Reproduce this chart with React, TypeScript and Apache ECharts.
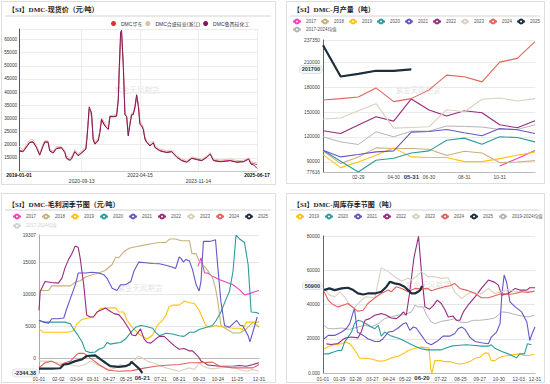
import React, { useEffect, useRef } from 'react';
import * as echarts from 'echarts';

const SANS = '"Liberation Sans", Arial, "Noto Sans CJK SC", sans-serif';
const SERIF = '"Liberation Serif", "Times New Roman", "Noto Sans CJK SC", serif';

// ---------------- Top-left: spot price ----------------
const PRICE_DATES = ['2019-01-01','2019-02-10','2019-04-17','2019-05-20','2019-06-22','2019-07-25','2019-08-28','2019-09-13','2019-10-16','2019-11-02','2019-12-05','2020-01-07','2020-02-26','2020-03-30','2020-04-15','2020-05-19','2020-06-04','2020-07-07','2020-08-09','2020-09-12','2020-10-25','2020-11-07','2020-11-27','2020-12-20','2021-01-05','2021-01-22','2021-02-24','2021-03-13','2021-03-29','2021-04-22','2021-05-18','2021-06-04','2021-06-20','2021-07-23','2021-08-25','2021-09-11','2021-09-21','2021-10-04','2021-10-14','2021-10-31','2021-11-16','2021-12-03','2021-12-19','2022-01-05','2022-01-21','2022-02-07','2022-02-24','2022-03-12','2022-03-29','2022-04-14','2022-05-01','2022-05-17','2022-06-03','2022-06-20','2022-07-23','2022-08-25','2022-09-10','2022-10-30','2023-01-04','2023-02-23','2023-04-14','2023-06-02','2023-07-22','2023-09-10','2023-10-30','2023-12-18','2024-02-06','2024-03-10','2024-04-12','2024-06-17','2024-09-25','2024-11-30','2025-02-04','2025-03-26','2025-04-18','2025-05-15','2025-06-17'];
const PRICE_HUADONG = [18000,17500,21000,21200,19200,16300,19800,21200,21000,17800,17000,18700,19000,17300,15000,14300,14800,17500,16000,17000,18500,23800,33500,31500,22500,20500,21800,25000,29800,28000,26500,26000,30500,30800,31000,37000,48000,60000,62000,50000,31800,30500,23800,28000,31500,31800,34000,38500,35000,28000,27300,26000,22300,21000,19800,20600,19000,17800,17200,17500,15400,14100,13500,15000,14500,14100,15400,16700,14100,13700,14000,13500,13700,14700,13000,12800,12400];
const PRICE_HESHENG = [19500,18000,21800,22000,19800,16800,20300,21500,21500,18300,17500,19200,19300,17800,15800,14900,15300,18200,16600,17600,19200,24500,33000,30500,23000,21300,22300,25500,30300,28800,27300,26800,31000,31200,31500,38000,50500,61500,62500,51000,32300,31000,24300,28500,32000,32300,35000,38800,35500,28800,28000,26800,23000,21800,20500,21300,19600,18300,17800,18000,15900,14600,14000,15300,14900,14500,15700,17000,14500,14200,14500,14000,14100,15000,13500,13300,13000];
const PRICE_LUXI = [17600,17300,20800,21000,19000,16000,19500,21000,21000,17600,16800,18500,18800,17000,14800,14000,14500,17300,15800,16800,18300,23300,34400,32100,22000,20200,21400,24600,29600,27700,26400,25800,30800,30600,30800,37100,49700,62900,63500,49700,31400,30800,23300,27700,31400,31400,34600,39000,34600,27700,27100,25800,22000,20800,19500,20800,18900,17600,17000,17300,15200,13900,13300,14800,14300,13900,15200,16400,13900,13500,13900,13300,13500,14500,12600,12300,11000];
const PRICE_LABEL_DATES = ['2019-01-01','2020-09-13','2022-04-15','2023-11-14','2025-06-17'];
const PRICE_END_LABELS = [13000, 12400];

// ---------------- Top-right: monthly output ----------------
const MONTH_CATS = ['01-01','01-31','02-29','03-31','04-30','05-31','06-30','07-31','08-31','09-30','10-31','11-30','12-31'];
const MONTH_LABEL_IDX = [2, 4, 6, 8, 10];
const OUT_2017 = [null,null,null,null,null,null,null,null,null,null,85000,94000,103500];
const OUT_2018 = [103200,87800,95900,106800,106000,106000,105200,97500,102800,100700,89000,89800,91400];
const OUT_2019 = [98700,82900,89800,97900,106800,95900,95100,95100,90200,90200,93800,97900,101900];
const OUT_2020 = [104000,90600,77616,91800,94200,100700,103200,116000,118600,111300,120200,119400,114100];
const OUT_2021 = [104000,95900,98700,102000,103200,125900,126700,129100,125100,121400,130300,128700,124200];
const OUT_2022 = [127500,124200,134400,144500,139200,166000,152600,145300,151800,149400,134800,131100,139600];
const OUT_2023 = [141700,142900,151800,160300,130700,131500,132300,153000,150600,165600,167200,163600,166400];
const OUT_2024 = [164800,166400,168400,179400,162800,166400,177000,194800,192800,186700,210600,215100,235300];
const OUT_2025 = [230900,193200,196400,200100,200100,201700];
const OUT_MEAN = [120200,114100,110900,126300,120200,127100,127100,133200,132800,132000,129100,129100,134800];

// ---------------- Bottom-left: gross profit (day-of-year, value) ----------------
const PROFIT_LABELS = ['01-01','02-02','03-04','03-31','04-27','05-25','07-21','08-21','09-23','10-24','11-25','12-31'];
const PROFIT_2017 = [[263,14400],[268,15700],[274,13350],[279,13350],[287,12820],[299,12290],[310,11900],[321,11500],[332,10700],[340,9900],[349,10150],[357,10400],[364,10600]];
const PROFIT_2018 = [[0,10600],[16,10600],[21,11330],[43,11330],[52,11330],[60,11900],[68,12130],[77,12710],[88,13080],[99,13350],[110,13780],[121,14680],[127,15850],[132,15740],[140,16650],[149,17230],[160,17450],[176,17760],[188,17980],[199,18140],[210,18140],[216,18670],[226,18670],[235,18400],[249,18400],[253,16380],[260,16380],[265,15210],[276,14150],[287,12660],[292,10960],[296,8830],[301,5100],[310,4570],[321,3940],[332,3940],[343,4570],[354,5640],[364,4840]];
const PROFIT_2019 = [[0,4570],[7,4040],[27,4040],[49,4040],[57,4310],[63,5370],[71,6060],[82,6280],[90,6440],[96,7130],[102,7770],[115,7870],[127,7870],[132,7230],[140,7230],[146,5900],[154,4840],[165,3780],[179,2980],[188,3620],[196,5110],[204,5900],[210,6700],[215,8030],[221,8300],[232,8300],[240,8940],[249,8670],[257,8560],[265,7500],[271,6170],[276,5110],[282,4840],[293,5110],[299,4950],[310,4840],[321,4680],[332,4680],[337,4470],[343,5640],[354,5640],[364,5640]];
const PROFIT_2020 = [[0,5900],[10,5640],[21,5640],[43,5640],[52,5370],[57,4570],[65,3510],[71,2550],[77,1120],[85,850],[93,960],[99,1380],[107,1650],[113,2450],[118,2180],[127,2340],[135,2450],[143,2980],[152,4040],[160,4840],[168,5110],[176,5000],[188,4680],[193,4040],[199,3510],[210,3880],[221,3780],[232,3510],[240,3400],[249,4040],[257,4040],[265,4470],[276,4790],[287,5110],[293,5900],[301,7230],[310,9360],[315,10430],[321,13620],[326,19307],[332,18670],[340,18140],[346,14680],[351,7230],[360,7130],[364,6970]];
const PROFIT_2021 = [[0,5900],[7,5640],[16,5480],[21,6170],[32,6170],[41,6280],[46,7770],[52,9360],[60,11490],[65,13350],[77,13350],[88,13460],[99,13350],[107,13080],[113,12450],[121,10960],[129,10590],[135,11490],[143,11490],[152,12020],[157,13620],[165,15050],[176,14950],[188,14840],[199,14790],[210,14570],[221,14260],[226,14040],[232,15850],[235,15640],[239,15050],[243,15480],[249,15210],[254,13880],[260,11490],[265,10530],[268,12020],[272,18300],[276,18300],[282,18300],[287,18400],[292,18560],[296,14150],[301,8830],[307,5110],[315,4840],[321,5370],[327,5900],[333,5110],[337,5110],[346,3510],[349,2550],[357,5110],[361,6440]];
const PROFIT_2022 = [[0,7500],[2,10430],[10,12020],[21,11860],[32,11760],[38,12550],[43,14150],[49,15480],[54,16280],[60,17600],[65,17340],[68,15740],[74,11490],[79,6700],[85,6440],[90,6440],[96,7230],[102,7500],[110,7870],[115,7500],[124,6970],[132,6810],[140,5900],[149,4570],[154,3620],[160,3510],[168,4570],[174,2980],[179,2450],[185,2340],[193,2980],[199,3400],[207,3400],[215,2710],[224,1910],[232,1380],[240,1490],[249,1120],[254,1120],[260,590],[265,50],[268,-480],[274,-740],[279,-1100],[287,-1170],[299,-1280],[310,-1280],[321,-1280],[332,-1170],[343,-1280],[354,-1000],[364,-740]];
const PROFIT_2023 = [[0,-480],[16,-480],[32,-740],[49,-1010],[65,-1280],[77,-1010],[85,-480],[93,-850],[102,-1280],[110,-1700],[118,-1810],[127,-1540],[135,-1010],[143,-1280],[152,-640],[160,-210],[165,300],[171,0],[179,-480],[188,-740],[199,-1120],[210,-1540],[221,-1810],[232,-2070],[240,-1810],[249,-1540],[257,-1810],[265,-740],[271,-1280],[279,-1540],[287,-1700],[299,-1540],[310,-1450],[321,-1380],[332,-1810],[343,-2070],[354,-1810],[364,-2070]];
const PROFIT_2024 = [[0,-1540],[10,-740],[21,-480],[35,-1170],[43,-740],[52,-480],[60,320],[65,740],[74,740],[79,430],[88,-210],[99,-1010],[115,-1910],[132,-2070],[154,-1970],[176,-1540],[193,-1280],[210,-1120],[232,-1010],[249,-740],[265,-740],[287,-640],[299,-1280],[321,-1540],[343,-1540],[354,-1540],[364,-1010]];
const PROFIT_2025 = [[0,-1650],[21,-1650],[35,-1600],[41,-1010],[49,-900],[60,-480],[71,-210],[79,320],[93,430],[102,-210],[110,-740],[118,-1280],[132,-1380],[143,-1280],[150,-1010],[153,-590],[158,-1010],[166,-1700],[171,-2344.38]];
const PROFIT_MEAN: number[][] = [];
const PROFIT_NOW = { day: 171, text: '06-21', value: -2344.38 };

// ---------------- Bottom-right: weekly inventory ----------------
const STOCK_LABELS = ['01-01','01-29','02-26','03-27','04-24','05-22','07-22','08-25','09-27','10-30','12-03','12-31'];
const STOCK_2019 = [[2,14100],[11,15700],[20,16500],[32,17100],[40,18000],[46,17100],[54,13700],[63,8600],[72,8600],[83,8200],[92,7250],[100,6860],[109,7640],[117,8820],[129,9800],[138,11170],[146,13130],[158,14500],[169,15090],[178,14700],[182,14500],[185,2350],[187,0],[192,7250],[201,7250],[209,6660],[218,6660],[226,5880],[235,5290],[244,5680],[252,6660],[261,8620],[269,9210],[278,11760],[284,11560],[289,7250],[295,7250],[301,8620],[309,9800],[318,10190],[330,10780],[338,11170],[344,10190],[352,10190],[363,10780]];
const STOCK_2020 = [[2,11170],[9,11170],[17,12150],[26,13130],[32,13130],[37,18030],[43,20970],[49,23910],[54,28810],[60,30770],[66,30180],[74,28810],[83,26850],[89,25870],[95,27830],[100,21560],[106,23910],[115,21950],[123,20970],[132,19990],[140,18620],[149,17050],[158,15680],[169,14110],[180,13520],[203,13520],[215,15090],[221,15680],[229,16070],[246,16460],[261,16070],[272,15680],[284,15680],[289,16460],[295,14500],[307,12540],[318,11170],[327,9800],[332,8820],[338,11170],[346,11170],[351,17050],[358,16460]];
const STOCK_2021 = [[2,19990],[9,21950],[20,21950],[32,23910],[40,25870],[46,28810],[52,35670],[54,37630],[59,23910],[69,21950],[77,19990],[89,18420],[97,18420],[103,19990],[112,23910],[120,24300],[129,26260],[138,28810],[143,29400],[149,24890],[155,26850],[160,26260],[169,21950],[178,17640],[186,16460],[198,19010],[206,21560],[218,21560],[226,22930],[232,25870],[238,26850],[244,25480],[252,20970],[261,18420],[272,17640],[284,17050],[289,20970],[298,23910],[304,28810],[307,45470],[311,57230],[315,53310],[321,41550],[330,38610],[341,35670],[350,29790],[355,19010],[359,22930],[364,26850]];
const STOCK_2022 = [[6,17000],[14,16600],[26,17200],[34,19500],[40,20600],[49,21000],[60,20500],[66,24300],[72,30770],[80,31750],[89,33710],[100,34690],[109,33710],[117,32140],[126,31750],[132,33320],[138,35670],[143,33710],[149,47430],[156,67030],[164,79800],[169,59190],[175,38610],[183,37240],[189,39200],[196,42530],[203,40570],[209,37240],[215,32730],[223,33320],[229,30770],[235,30770],[241,35670],[249,39590],[261,44490],[272,49390],[284,54290],[295,52920],[301,51350],[307,45470],[318,46450],[330,49390],[338,48410],[350,48410],[355,49780],[364,49780]];
const STOCK_2023 = [[2,49390],[11,45470],[20,44490],[29,47430],[37,44490],[46,39590],[54,38020],[66,42530],[74,44490],[89,43900],[100,61540],[112,59190],[123,56250],[135,53700],[146,55270],[152,54290],[160,56250],[169,59190],[180,56250],[192,56250],[203,55270],[215,55660],[226,47430],[238,43510],[246,45470],[255,47430],[264,46450],[272,46450],[284,49390],[295,46450],[307,47430],[318,48800],[330,47430],[341,47430],[352,47820],[363,47430]];
const STOCK_2024 = [[2,47430],[9,42530],[17,39980],[26,38610],[34,39590],[43,40570],[52,38020],[60,36060],[69,36650],[77,40570],[89,43900],[100,46450],[112,48410],[117,47430],[126,50370],[135,49390],[146,47430],[158,49390],[169,49000],[180,49390],[186,48020],[198,49390],[209,50370],[218,50960],[226,52330],[235,49390],[246,48410],[261,46450],[272,43900],[284,43900],[295,45080],[307,46450],[318,45860],[330,46450],[341,47430],[352,47040],[363,47820]];
const STOCK_2025 = [[2,48410],[11,49390],[20,48410],[32,49390],[43,49780],[52,48410],[60,46450],[69,45860],[77,46450],[89,46450],[100,47430],[109,50370],[115,53310],[123,52330],[132,51740],[140,50370],[146,48410],[152,46450],[158,46450],[163,47430],[167,48410],[170,50900]];
const STOCK_MEAN = [[2,27830],[9,25870],[20,25870],[32,26260],[46,25480],[60,26850],[72,27830],[83,26850],[95,28810],[106,31750],[117,32730],[129,33710],[140,34100],[152,35670],[158,39590],[163,38610],[172,38610],[178,33710],[186,29790],[192,28810],[203,30180],[215,30770],[226,31750],[235,29790],[246,29400],[258,30770],[269,30770],[284,31360],[295,32140],[307,35670],[318,35280],[330,34100],[341,33320],[352,32730],[363,33710]];
const STOCK_NOW = { day: 170, text: '06-20', value: 50900 };

const COLORS: Record<string, string> = {
  '2017': '#f43fc4', '2018': '#c8b07a', '2019': '#ffc20e', '2020': '#2b9c9c', '2021': '#6656c8',
  '2022': '#992a7f', '2023': '#dcd0bf', '2024': '#e2625c', '2025': '#1d2f3f', mean: '#b4b4b4',
};

function buildDays(y0: number, m0: number, d0: number, y1: number, m1: number, d1: number) {
  const out: string[] = [];
  const end = Date.UTC(y1, m1 - 1, d1);
  for (let t = Date.UTC(y0, m0 - 1, d0); t <= end; t += 86400000) out.push(new Date(t).toISOString().slice(0, 10));
  return out;
}
const PRICE_DAYS = buildDays(2019, 1, 1, 2025, 6, 17);
const SEASON_DAYS = buildDays(2023, 1, 1, 2023, 12, 31).map((s) => s.slice(5));

function line(name: string, data: any[], color: string, width = 1.1, z = 2) {
  return {
    name, type: 'line', data, symbol: 'emptyCircle', symbolSize: 4, showSymbol: false,
    lineStyle: { width, color }, itemStyle: { color }, z, connectNulls: false,
  };
}

const plainNum = (v: number) => String(v);

function titleOpt(text: string, top: number) {
  return { text, left: 7, top, padding: 0, textStyle: { fontSize: 7, fontWeight: 'bold', fontFamily: SERIF, color: '#222' } };
}
function rule(y: number, x2: number) {
  return { type: 'line', silent: true, shape: { x1: 4, y1: y, x2, y2: y }, style: { stroke: '#d4d4d4', lineWidth: 1 } };
}
function watermark(x: number, y: number) {
  return {
    type: 'text', silent: true, x, y, z: 0,
    style: { text: '紫金天风期货', fill: 'rgba(150,150,150,0.3)', fontSize: 7.5, fontFamily: '"Noto Sans CJK SC", sans-serif', align: 'center', verticalAlign: 'middle', textAlign: 'center', textVerticalAlign: 'middle' },
  };
}
function legendOpt(data: string[], left: number, top: number, gap: number, extra: any = {}) {
  return { data, left, top, itemWidth: 8, itemHeight: 5, itemGap: gap, padding: 0, textStyle: { fontSize: 4.5, color: '#555', fontFamily: SANS }, ...extra };
}
const yPointerLabel = (text: string) => ({
  show: true, formatter: () => text, backgroundColor: '#f3f5f8', color: '#25364a', fontWeight: 'bold', fontSize: 5.5,
  padding: [1, 2], borderColor: '#c5cbd3', borderWidth: 0.5, margin: 1, fontFamily: SANS,
});
const xPointerLabel = (text: string) => ({
  show: true, formatter: () => text, backgroundColor: '#ffffff', color: '#25364a', fontWeight: 'bold', fontSize: 6,
  padding: [0, 2], margin: 2, fontFamily: SANS,
});
function pointer(value: number, label: any) {
  return { show: true, type: 'line', value, status: 'show', snap: false, triggerTooltip: false, lineStyle: { opacity: 0, width: 0 }, label };
}

const YEARS9 = ['2017','2018','2019','2020','2021','2022','2023','2024','2025'];

// ---------------- options ----------------
const tlOption = {
  animation: false,
  title: titleOpt('【SI】DMC-现货价（元/吨）', 5.5),
  legend: { data: ['DMC华东','DMC合盛硅业(浙江)','DMC鲁西硅化工'], left: 110, top: 20, icon: 'circle', itemWidth: 5, itemHeight: 5, itemGap: 3, padding: 0, textStyle: { fontSize: 5, color: '#333', fontFamily: SANS } },
  grid: { left: 18, right: 19, top: 28, bottom: 14 },
  xAxis: {
    type: 'category', data: PRICE_DAYS, boundaryGap: false,
    axisLine: { lineStyle: { color: '#c8c8c8' } }, axisTick: { show: false },
    axisLabel: {
      interval: (_i: number, v: string) => PRICE_LABEL_DATES.indexOf(v) >= 0, margin: 1.5, fontFamily: SANS,
      formatter: (v: string) => {
        const k = PRICE_LABEL_DATES.indexOf(v);
        if (k === 0 || k === PRICE_LABEL_DATES.length - 1) return `{b|${v}}`;
        if (k % 2 === 1) return `{low|${v}}`;
        return `{n|${v}}`;
      },
      rich: {
        b: { fontWeight: 'bold', fontSize: 5, color: '#111', fontFamily: SANS },
        low: { padding: [6, 0, 0, 0], fontSize: 5, color: '#333', fontFamily: SANS },
        n: { fontSize: 5, color: '#333', fontFamily: SANS },
      },
    },
    splitLine: { show: true, interval: (_i: number, v: string) => PRICE_LABEL_DATES.indexOf(v) >= 0, lineStyle: { color: '#ececec' } },
  },
  yAxis: {
    type: 'value', min: 10000, max: 64000, interval: 5000,
    axisLine: { show: true, lineStyle: { color: '#555' } }, axisTick: { show: false },
    axisLabel: { fontSize: 4.6, color: '#333', margin: 2, showMinLabel: false, showMaxLabel: false, fontFamily: SANS, formatter: plainNum },
    splitLine: { lineStyle: { color: '#ececec' } },
  },
  graphic: [rule(15, 270), watermark(136, 88)],
  series: [
    {
      ...line('DMC华东', PRICE_DATES.map((d, i) => [d, PRICE_HUADONG[i]]), '#d9352d', 0.9),
      symbol: 'circle',
      markLine: {
        silent: true, symbol: 'none', lineStyle: { opacity: 0 },
        label: { position: 'start', distance: 1, color: '#fff', fontSize: 4.2, padding: [0.3, 2], fontFamily: SANS },
        data: [
          { yAxis: PRICE_END_LABELS[0], label: { formatter: String(PRICE_END_LABELS[0]), backgroundColor: '#f3a3b6', verticalAlign: 'middle' } },
          { yAxis: PRICE_END_LABELS[1], label: { formatter: String(PRICE_END_LABELS[1]), backgroundColor: '#b5dc9a', verticalAlign: 'top' } },
        ],
      },
    },
    { ...line('DMC合盛硅业(浙江)', PRICE_DATES.map((d, i) => [d, PRICE_HESHENG[i]]), '#d8c2a6', 0.9), symbol: 'circle' },
    { ...line('DMC鲁西硅化工', PRICE_DATES.map((d, i) => [d, PRICE_LUXI[i]]), '#84155f', 1), symbol: 'circle' },
  ],
};

const trSeriesData: Record<string, any[]> = {
  '2017': OUT_2017, '2018': OUT_2018, '2019': OUT_2019, '2020': OUT_2020, '2021': OUT_2021,
  '2022': OUT_2022, '2023': OUT_2023, '2024': OUT_2024, '2025': OUT_2025,
};
const trOption = {
  animation: false,
  title: titleOpt('【SI】DMC-月产量（吨）', 5.5),
  legend: [legendOpt(YEARS9, 6, 17.5, 4), legendOpt(['2017-2024均值'], 6, 25.5, 4)],
  grid: { left: 37, right: 10, top: 39, bottom: 12 },
  xAxis: {
    type: 'category', data: MONTH_CATS, boundaryGap: false,
    axisLine: { lineStyle: { color: '#bbb' } }, axisTick: { show: false },
    axisLabel: { interval: (i: number) => MONTH_LABEL_IDX.indexOf(i) >= 0, fontSize: 4.8, color: '#444', margin: 3, fontFamily: SANS },
    axisPointer: pointer(5, xPointerLabel('05-31')),
  },
  yAxis: {
    type: 'value', min: 77616, max: 237350,
    axisLine: { show: true, lineStyle: { color: '#666' } }, axisTick: { show: false },
    axisLabel: { fontSize: 4.8, color: '#444', margin: 3, fontFamily: SANS, formatter: plainNum },
    splitLine: { lineStyle: { color: '#ebebeb' } },
    axisPointer: pointer(201700, yPointerLabel('201700')),
  },
  graphic: [rule(15, 254), watermark(132, 88)],
  series: [
    line('2017-2024均值', OUT_MEAN, COLORS.mean, 1),
    ...YEARS9.map((y) => line(y, trSeriesData[y], COLORS[y], y === '2025' ? 2.2 : 1.1, y === '2025' ? 5 : 2)),
  ],
};

const blSeriesData: Record<string, any[]> = {
  '2017': PROFIT_2017, '2018': PROFIT_2018, '2019': PROFIT_2019, '2020': PROFIT_2020, '2021': PROFIT_2021,
  '2022': PROFIT_2022, '2023': PROFIT_2023, '2024': PROFIT_2024, '2025': PROFIT_2025,
};
function seasonX(labels: string[], now: { day: number; text: string }) {
  return {
    type: 'category', data: SEASON_DAYS, boundaryGap: false,
    axisLine: { lineStyle: { color: '#bbb' } }, axisTick: { show: false },
    axisLabel: { interval: (_i: number, v: string) => labels.indexOf(v) >= 0, fontSize: 4.8, color: '#444', margin: 4, fontFamily: SANS },
    splitLine: { show: false },
    axisPointer: pointer(now.day, xPointerLabel(now.text)),
  };
}
const blOption = {
  animation: false,
  title: titleOpt('【SI】DMC-毛利润季节图（元/吨）', 8.5),
  legend: [legendOpt(YEARS9, 11, 20.5, 5), legendOpt(['2017-2024均值'], 11, 29.8, 5, { selected: { '2017-2024均值': false } })],
  grid: { left: 38, right: 17, top: 42, bottom: 10 },
  xAxis: seasonX(PROFIT_LABELS, PROFIT_NOW),
  yAxis: {
    type: 'value', min: -2344.38, max: 19307,
    axisLine: { show: true, lineStyle: { color: '#aaa' } }, axisTick: { show: false },
    axisLabel: { fontSize: 4.8, color: '#444', margin: 3, fontFamily: SANS, formatter: plainNum, showMinLabel: false },
    splitLine: { lineStyle: { color: '#e6e6e6' } },
    axisPointer: pointer(PROFIT_NOW.value, yPointerLabel('-2344.38')),
  },
  graphic: [rule(17, 270), watermark(139, 94)],
  series: [
    ...YEARS9.map((y) => line(y, blSeriesData[y], COLORS[y], y === '2025' ? 2.2 : 1.1, y === '2025' ? 5 : 2)),
    line('2017-2024均值', PROFIT_MEAN, COLORS.mean, 1),
  ],
};

const YEARS_BR = ['2019','2020','2021','2022','2023','2024','2025'];
const brSeriesData: Record<string, any[]> = {
  '2019': STOCK_2019, '2020': STOCK_2020, '2021': STOCK_2021, '2022': STOCK_2022,
  '2023': STOCK_2023, '2024': STOCK_2024, '2025': STOCK_2025,
};
const brOption = {
  animation: false,
  title: titleOpt('【SI】DMC-周库存季节图（吨）', 8.5),
  legend: legendOpt([...YEARS_BR, '2019-2024均值'], 9, 20.5, 5),
  grid: { left: 37, right: 10, top: 43, bottom: 10 },
  xAxis: seasonX(STOCK_LABELS, STOCK_NOW),
  yAxis: {
    type: 'value', min: 0, max: 80000, interval: 20000,
    axisLine: { show: true, lineStyle: { color: '#666' } }, axisTick: { show: false },
    axisLabel: { fontSize: 4.8, color: '#444', margin: 3, fontFamily: SANS, formatter: (v: number) => (v === 0 ? '0.000' : String(v)) },
    splitLine: { lineStyle: { color: '#e6e6e6' } },
    axisPointer: pointer(STOCK_NOW.value, yPointerLabel('50900')),
  },
  graphic: [rule(17, 254), watermark(142, 91)],
  series: [
    line('2019-2024均值', STOCK_MEAN, COLORS.mean, 1),
    ...YEARS_BR.map((y) => line(y, brSeriesData[y], COLORS[y], y === '2025' ? 2.2 : 1.1, y === '2025' ? 5 : 2)),
  ],
};

function Panel({ left, top, width, height, option }: any) {
  const ref = useRef<HTMLDivElement>(null);
  useEffect(() => {
    const chart = echarts.init(ref.current!, null, { renderer: 'svg' });
    chart.setOption(option);
    return () => chart.dispose();
  }, []);
  return (
    <div style={{ position: 'absolute', left, top, width, height, border: '1px solid #dedede', boxSizing: 'border-box', background: '#fff' }}>
      <div ref={ref} style={{ position: 'absolute', left: -1, top: -1, width, height }} />
    </div>
  );
}

export default function App() {
  return (
    <div style={{ position: 'fixed', left: 0, top: 0, width: 550, height: 384, background: '#fff', overflow: 'hidden' }}>
      <Panel left={1} top={1} width={275} height={184} option={tlOption} />
      <Panel left={286} top={1} width={259} height={183} option={trOption} />
      <Panel left={1} top={193} width={275} height={190} option={blOption} />
      <Panel left={286} top={193} width={259} height={190} option={brOption} />
    </div>
  );
}
